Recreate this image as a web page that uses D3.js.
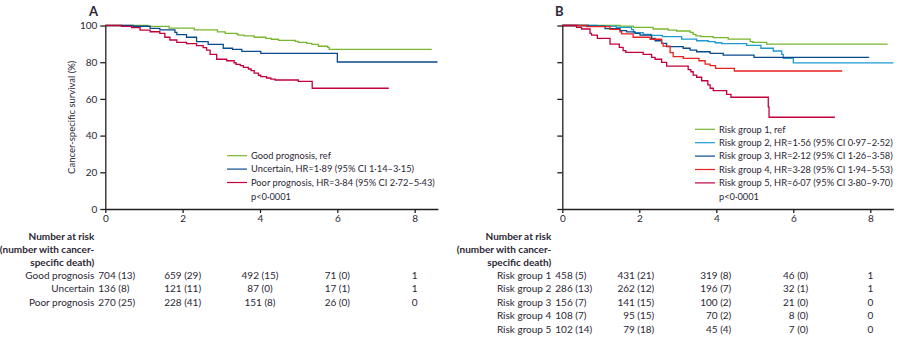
<!DOCTYPE html>
<html>
<head>
<meta charset="utf-8">
<title>Cancer-specific survival</title>
<style>
  body { margin: 0; background: #fff; }
  text { font-family: Lato, "Open Sans", sans-serif; fill: #2b2735; }
  .axis path, .axis line { stroke: #231f20; stroke-width: 1.3px; }
  .axis text { font-size: 10px; fill: #2b2735; }
  .curve { fill: none; stroke-width: 1.3px; }
</style>
<script src="https://cdn.jsdelivr.net/npm/d3@7"></script>
</head>
<body>
<script>
// ---- data ----
var timeTicks = [0, 2, 4, 6, 8];
var survTicks = [0, 20, 40, 60, 80, 100];
var pText = "p<0·0001";

// panel A
var groupsA = ["Good prognosis", "Uncertain", "Poor prognosis"];
var legendA = ["Good prognosis, ref",
               "Uncertain, HR=1·89 (95% CI 1·14–3·15)",
               "Poor prognosis, HR=3·84 (95% CI 2·72–5·43)"];
var goodA = [[0,100],[1.1,99.5],[1.65,98.6],[2.3,97.6],[2.9,96.5],[3.1,95.7],[3.41,95.2],[3.44,94.8],[3.59,94.3],
             [3.85,93.6],[4.15,93.0],[4.29,92.5],[4.48,91.9],[4.91,91.4],[4.99,90.8],[5.21,90.3],[5.34,89.7],
             [5.51,88.7],[5.75,88.1],[5.79,87.0],[8.44,87.0]];
var uncertainA = [[0,100],[0.72,99.6],[1.16,98.4],[1.41,97.6],[1.8,96.3],[1.85,95.0],[2.1,93.6],[2.36,91.2],
                  [2.66,89.7],[3.05,87.6],[3.29,87.0],[3.53,85.9],[4.02,84.8],[6.0,80.1],[8.59,80.1]];
var poorA = [[0,100],[0.42,99.5],[0.68,98.8],[0.9,97.5],[1.16,96.6],[1.41,95.7],[1.54,93.6],[1.67,92.1],
             [1.85,90.8],[2.1,90.1],[2.36,89.0],[2.53,87.9],[2.62,86.6],[2.71,84.3],[2.88,81.6],[3.14,80.8],
             [3.33,79.7],[3.38,78.8],[3.49,78.1],[3.57,77.2],[3.7,76.3],[3.77,75.4],[3.85,74.1],[3.96,72.9],
             [4.02,72.1],[4.17,71.4],[4.28,70.8],[4.39,70.3],[4.99,69.6],[5.35,65.8],[7.33,65.8]];
var atRiskA = [[704, 659, 492, 71, 1], [136, 121, 87, 17, 1], [270, 228, 151, 26, 0]];
var deathsA = [[13, 29, 15, 0], [8, 11, 0, 1], [25, 41, 8, 0]];

// panel B
var groupsB = ["Risk group 1", "Risk group 2", "Risk group 3", "Risk group 4", "Risk group 5"];
var legendB = ["Risk group 1, ref",
               "Risk group 2, HR=1·56 (95% CI 0·97–2·52)",
               "Risk group 3, HR=2·12 (95% CI 1·26–3·58)",
               "Risk group 4, HR=3·28 (95% CI 1·94–5·53)",
               "Risk group 5, HR=6·07 (95% CI 3·80–9·70)"];
var group1B = [[0,100],[1.5,99.7],[1.85,99.0],[2.36,98.1],[2.75,97.5],[2.97,97.0],[3.32,96.3],[3.4,95.2],
               [3.47,94.4],[3.6,93.9],[3.92,93.4],[4.31,92.6],[4.88,91.2],[4.95,90.8],[5.31,89.9],[8.45,89.9]];
var group2B = [[0,100],[0.9,99.7],[1.4,99.0],[1.8,97.8],[1.85,96.1],[2.1,95.2],[2.3,94.6],[2.6,93.9],
               [3.1,92.6],[3.49,91.7],[3.79,91.2],[3.97,90.6],[4.14,90.1],[4.79,89.2],[5.16,87.6],[5.48,86.1],
               [5.7,84.3],[5.74,82.1],[6.0,79.6],[8.6,79.6]];
var group3B = [[0,100],[0.68,99.7],[1.11,98.3],[1.5,97.2],[1.67,96.5],[1.89,95.7],[2.02,94.8],[2.32,93.0],
               [2.41,91.7],[2.58,90.3],[2.71,88.5],[3.14,87.6],[3.32,86.6],[3.49,85.7],[3.84,84.8],[4.18,83.9],
               [4.98,82.6],[7.97,82.6]];
var group4B = [[0,100],[0.63,99.4],[1.24,97.9],[1.5,96.6],[1.54,95.4],[1.84,93.6],[2.28,92.5],[2.58,90.3],
               [2.62,88.8],[2.8,85.2],[2.88,83.0],[3.14,82.1],[3.55,80.8],[3.71,79.0],[3.84,78.1],[3.98,76.6],
               [4.47,75.2],[7.27,75.2]];
var group5B = [[0,100],[0.37,99.0],[0.5,98.1],[0.72,95.7],[0.76,94.8],[0.91,93.0],[1.24,89.9],[1.48,88.1],
               [1.58,86.3],[1.65,85.4],[2.1,84.3],[2.32,82.6],[2.41,81.6],[2.58,79.9],[2.71,77.9],[3.27,76.0],
               [3.34,74.8],[3.4,73.0],[3.49,71.8],[3.62,69.9],[3.78,67.6],[3.84,65.8],[3.92,64.5],[4.27,62.5],
               [4.38,60.9],[5.35,55.7],[5.37,50.0],[7.08,50.0]];
var atRiskB = [[458, 431, 319, 46, 1], [286, 262, 196, 32, 1], [156, 141, 100, 21, 0],
               [108, 95, 70, 8, 0], [102, 79, 45, 7, 0]];
var deathsB = [[5, 21, 8, 0], [13, 12, 7, 1], [7, 15, 2, 0], [7, 15, 2, 0], [14, 18, 4, 0]];

// ---- style ----
var coloursA = ["#78b62f", "#0a4a8c", "#c2003a"];
var coloursB = ["#78b62f", "#1d9ad0", "#0a4a8c", "#e8221f", "#c2003a"];

var svg = d3.select("body").append("svg")
    .attr("width", 904)
    .attr("height", 343);

function drawPanel(p) {
    var g = svg.append("g")
        .attr("transform", "translate(" + p.left + "," + p.top + ")");

    var x = d3.scaleLinear().domain([0, 8.6]).range([0, p.width]);
    var y = d3.scaleLinear().domain([0, 100]).range([p.height, 0]);

    // curves
    var line = d3.line()
        .x(function(d) { return x(d[0]); })
        .y(function(d) { return y(d[1]); })
        .curve(d3.curveStepAfter);
    p.series.forEach(function(s, i) {
        g.append("path")
            .datum(s)
            .attr("class", "curve")
            .attr("stroke", p.colours[i])
            .attr("d", line);
    });

    // axes
    g.append("g")
        .attr("class", "axis")
        .attr("transform", "translate(0," + p.height + ")")
        .call(d3.axisBottom(x).tickValues(timeTicks).tickSize(4).tickSizeOuter(0).tickPadding(2));
    var yAxis = d3.axisLeft(y).tickValues(survTicks).tickSize(5).tickSizeOuter(0).tickPadding(3);
    if (!p.yLabels) yAxis.tickFormat("");
    g.append("g")
        .attr("class", "axis")
        .call(yAxis);

    if (p.yLabels) {
        g.append("text")
            .attr("transform", "translate(-30," + (p.height / 2) + ") rotate(-90)")
            .attr("text-anchor", "middle")
            .attr("font-size", 9.5)
            .text("Cancer-specific survival (%)");
    }

    // panel letter
    svg.append("text")
        .attr("x", p.letterX).attr("y", 16)
        .attr("font-size", 13).attr("font-weight", "bold")
        .text(p.letter);

    // legend
    var lg = svg.append("g").attr("transform", "translate(" + p.legX + "," + p.legY + ")");
    p.legend.forEach(function(t, i) {
        lg.append("line")
            .attr("x1", 0).attr("x2", 20)
            .attr("y1", i * 13.4).attr("y2", i * 13.4)
            .attr("stroke", p.colours[i]).attr("stroke-width", 1.2);
        lg.append("text")
            .attr("x", 24).attr("y", i * 13.4).attr("dy", "0.35em")
            .attr("font-size", 9.3)
            .text(t);
    });
    lg.append("text")
        .attr("x", 24).attr("y", p.legend.length * 13.4 + 0.5).attr("dy", "0.35em")
        .attr("font-size", 9.3)
        .text(pText);

    // number at risk table
    var labelX = p.left - 11;
    var head = ["Number at risk", "(number with cancer-", "specific death)"];
    head.forEach(function(h, i) {
        svg.append("text")
            .attr("x", labelX).attr("y", 236 + i * 13).attr("dy", "0.35em")
            .attr("text-anchor", "end")
            .attr("font-size", 10).attr("font-weight", "bold")
            .text(h);
    });
    p.groups.forEach(function(name, i) {
        var ry = 275 + i * 13.5;
        svg.append("text")
            .attr("x", labelX).attr("y", ry).attr("dy", "0.35em")
            .attr("text-anchor", "end").attr("font-size", 10)
            .text(name);
        timeTicks.forEach(function(t, j) {
            var n = p.atRisk[i][j], d = p.deaths[i][j];
            var label = d === undefined ? String(n) : n + " (" + d + ")";
            var tx, anchor;
            if (j === 0) { tx = labelX + 4; anchor = "start"; }
            else if (p.rightAlign && j < timeTicks.length - 1) { tx = p.left + x(t) + 15; anchor = "end"; }
            else { tx = p.left + x(t); anchor = "middle"; }
            svg.append("text")
                .attr("x", tx).attr("y", ry).attr("dy", "0.35em")
                .attr("text-anchor", anchor).attr("font-size", 10)
                .text(label);
        });
    });
}

drawPanel({
    left: 105.3, top: 25.5, width: 332.6, height: 183.5,
    series: [goodA, uncertainA, poorA], colours: coloursA,
    yLabels: true, letter: "A", letterX: 89,
    legend: legendA, legX: 227, legY: 155.7,
    groups: groupsA, atRisk: atRiskA, deaths: deathsA, rightAlign: false
});

drawPanel({
    left: 562.3, top: 25.5, width: 331.1, height: 183.5,
    series: [group1B, group2B, group3B, group4B, group5B], colours: coloursB,
    yLabels: false, letter: "B", letterX: 555,
    legend: legendB, legX: 695, legY: 129.3,
    groups: groupsB, atRisk: atRiskB, deaths: deathsB, rightAlign: true
});
</script>
</body>
</html>
